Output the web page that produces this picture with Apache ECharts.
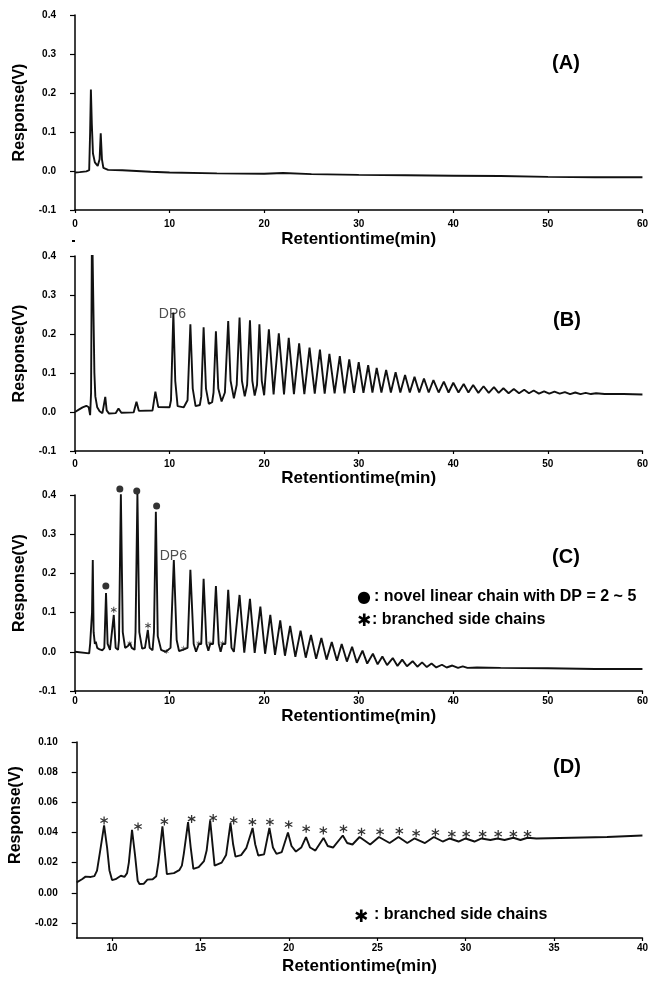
<!DOCTYPE html>
<html><head><meta charset="utf-8">
<script src="https://cdn.jsdelivr.net/npm/echarts@6/dist/echarts.min.js"></script>
<style>html,body{margin:0;padding:0;background:#fff}#c{width:651px;height:982px}</style>
</head><body><div id="c"></div>
<script>
// ---------- data ----------
const traceA = [[0,-0.004],[0.5,-0.003],[1.2,-0.001],[1.5,0.002],[1.6,0.1],[1.68,0.209],[1.78,0.12],[1.9,0.045],[2.1,0.022],[2.4,0.013],[2.6,0.03],[2.72,0.097],[2.85,0.03],[3.0,0.008],[3.5,0.003],[5,0.002],[6.5,0.0],[8,-0.002],[10,-0.004],[15,-0.006],[20,-0.007],[22,-0.005],[25,-0.008],[30,-0.01],[35,-0.011],[40,-0.012],[45,-0.013],[50,-0.015],[55,-0.016],[60,-0.016]];

const traceB = [[0,0.0],[0.4,0.006],[0.8,0.012],[1.2,0.016],[1.45,0.012],[1.6,-0.008],[1.7,0.05],[1.8,0.5],[1.95,0.5],[2.05,0.1],[2.15,0.04],[2.35,0.012],[2.6,0.002],[2.9,-0.003],[3.05,0.002],[3.2,0.039],[3.35,0.004],[3.6,-0.004],[4.3,-0.003],[4.6,0.009],[4.9,-0.002],[6.2,-0.001],[6.5,0.026],[6.75,0.003],[8.2,0.004],[8.5,0.052],[8.8,0.013],[10.0,0.012],[10.15,0.03],[10.4,0.255],[10.6,0.08],[10.85,0.015],[11.5,0.012],[11.9,0.03],[12.2,0.225],[12.45,0.06],[12.75,0.015],[13.2,0.018],[13.35,0.04],[13.6,0.217],[13.85,0.06],[14.15,0.021],[14.5,0.025],[14.65,0.05],[14.9,0.207],[15.15,0.06],[15.5,0.027],[15.85,0.05],[16.2,0.233],[16.45,0.08],[16.8,0.035],[17.1,0.07],[17.4,0.242],[17.65,0.08],[17.95,0.04],[18.2,0.07],[18.5,0.235],[18.75,0.08],[19.0,0.042],[19.25,0.07],[19.5,0.225],[19.75,0.08],[20.0,0.043],
[20.5,0.212],[21.0,0.045],[21.55,0.202],[22.1,0.045],[22.6,0.19],[23.15,0.046],[23.7,0.176],[24.25,0.046],[24.8,0.165],[25.35,0.047],[25.9,0.16],[26.4,0.047],[26.9,0.149],[27.45,0.048],[28.0,0.143],[28.5,0.048],[29.0,0.135],[29.5,0.049],[30.0,0.128],[30.5,0.049],[31.0,0.12],[31.45,0.05],[31.9,0.113],[32.4,0.05],[32.9,0.108],[33.4,0.05],[33.9,0.102],[34.4,0.05],[34.9,0.095],[35.4,0.05],[35.9,0.09],[36.4,0.05],[36.9,0.086],[37.4,0.05],[37.9,0.082],[38.45,0.05],[39.0,0.078],[39.5,0.05],[40.0,0.075],[40.55,0.05],[41.1,0.072],[41.6,0.05],[42.1,0.069],[42.65,0.049],[43.2,0.066],[43.75,0.049],[44.3,0.064],[44.8,0.049],[45.3,0.061],[45.85,0.048],[46.4,0.059],[46.95,0.048],[47.5,0.057],[48.0,0.048],[48.5,0.055],[49.05,0.047],[49.6,0.053],[50.15,0.047],[50.7,0.052],[51.25,0.047],[51.8,0.051],[52.35,0.046],[52.9,0.05],[53.45,0.046],[54.0,0.049],[54.55,0.046],[55.1,0.048],[56,0.046],[58,0.046],[60,0.045]];

const traceC = [[0,0.0],[1.5,-0.004],[1.6,0.02],[1.7,0.02],[1.8,0.1],[1.88,0.234],[1.97,0.05],[2.1,0.02],[2.2,0.026],[2.35,0.01],[2.6,0.006],[2.9,0.004],[3.1,0.01],[3.28,0.15],[3.45,0.02],[3.7,0.005],[3.9,0.01],[4.1,0.094],[4.3,0.01],[4.55,0.005],[4.65,0.03],[4.85,0.402],[5.05,0.05],[5.3,0.01],[5.6,0.015],[5.8,0.022],[6.0,0.01],[6.3,0.005],[6.4,0.05],[6.6,0.405],[6.8,0.05],[7.1,0.008],[7.4,0.01],[7.7,0.056],[7.9,0.01],[8.2,0.004],[8.35,0.05],[8.55,0.357],[8.75,0.04],[9.1,0.005],[9.6,0.0],[9.8,0.005],[10.1,0.01],[10.45,0.234],[10.75,0.03],[11.0,0.002],[11.4,0.005],[11.9,0.01],[12.2,0.209],[12.55,0.02],[12.8,0.0],[13.1,0.02],[13.35,0.02],[13.6,0.186],[13.9,0.02],[14.1,0.003],[14.3,0.02],[14.6,0.02],[14.9,0.168],[15.2,0.02],[15.4,0.0],[15.6,0.02],[15.9,0.02],[16.2,0.158],[16.55,0.01],[16.8,0.0],[17.4,0.145],[17.9,-0.002],[18.5,0.135],[19.0,-0.003],[19.6,0.115],[20.1,-0.005],[20.65,0.094],[21.15,-0.008],[21.7,0.08],[22.2,-0.01],[22.75,0.066],[23.3,-0.013],[23.85,0.054],[24.4,-0.015],[24.95,0.043],[25.5,-0.018],[26.05,0.035],[26.6,-0.02],[27.15,0.025],[27.7,-0.023],[28.2,0.02],[28.75,-0.025],[29.3,0.013],[29.8,-0.028],[30.4,0.003],[30.9,-0.03],[31.5,-0.005],[32.0,-0.032],[32.5,-0.012],[33.0,-0.034],[33.6,-0.016],[34.1,-0.036],[34.6,-0.02],[35.1,-0.037],[35.7,-0.024],[36.2,-0.038],[36.7,-0.027],[37.2,-0.039],[37.7,-0.03],[38.2,-0.04],[38.8,-0.033],[39.3,-0.04],[39.9,-0.035],[40.5,-0.041],[41.0,-0.037],[41.5,-0.041],[42.5,-0.04],[45,-0.041],[50,-0.042],[55,-0.044],[60,-0.044]];

const traceD = [[8.0,0.0069],[8.3,0.009],[8.5,0.0107],[8.8,0.0105],[9.0,0.011],[9.15,0.0147],[9.33,0.028],[9.55,0.0447],[9.72,0.03],[9.85,0.015],[10.0,0.0084],[10.2,0.009],[10.5,0.0113],[10.7,0.0105],[10.85,0.013],[10.95,0.02],[11.13,0.0418],[11.3,0.025],[11.45,0.008],[11.55,0.0058],[11.8,0.006],[12.0,0.0087],[12.3,0.009],[12.5,0.011],[12.62,0.02],[12.85,0.044],[13.0,0.025],[13.1,0.0124],[13.5,0.013],[13.8,0.015],[13.95,0.018],[14.06,0.026],[14.3,0.0469],[14.45,0.03],[14.6,0.0158],[14.9,0.017],[15.2,0.021],[15.35,0.028],[15.55,0.048],[15.7,0.03],[15.8,0.018],[16.2,0.02],[16.45,0.025],[16.7,0.0462],[16.85,0.032],[16.98,0.024],[17.3,0.025],[17.6,0.0298],[17.95,0.043],[18.1,0.032],[18.27,0.0247],[18.6,0.0255],[18.9,0.043],[19.1,0.03],[19.3,0.0258],[19.6,0.027],[19.95,0.040],[20.15,0.031],[20.4,0.0273],[20.7,0.03],[20.97,0.0369],[21.2,0.03],[21.5,0.028],[21.96,0.0364],[22.2,0.031],[22.5,0.030],[23.05,0.038],[23.3,0.033],[23.6,0.032],[24.0,0.037],[24.6,0.032],[25.1,0.037],[25.7,0.033],[26.2,0.037],[26.7,0.033],[27.1,0.036],[27.7,0.033],[28.2,0.037],[28.7,0.034],[29.1,0.036],[29.6,0.034],[30.0,0.036],[30.5,0.034],[30.9,0.036],[31.4,0.035],[31.8,0.036],[32.2,0.035],[32.7,0.0365],[33.1,0.035],[33.5,0.0365],[34,0.036],[36,0.0365],[38,0.037],[40,0.038]];

const dotsC = [[3.26,0.168],[4.74,0.415],[6.53,0.41],[8.63,0.372]];
const bigStarsC = [[4.1,0.107],[7.72,0.067]];
const smallStarsC = [[5.79,0.022],[9.65,0.001],[11.47,0.009],[13.09,0.022],[14.28,0.022],[15.6,0.022]];
const starsD = [[9.55,0.048],[11.47,0.044],[12.96,0.0473],[14.5,0.049],[15.72,0.0496],[16.88,0.048],[17.94,0.0469],[18.93,0.0469],[19.99,0.0453],[20.98,0.0424],[21.95,0.0413],[23.09,0.0424],[24.11,0.0405],[25.16,0.0405],[26.25,0.041],[27.2,0.0395],[28.29,0.040],[29.22,0.039],[30.03,0.039],[30.96,0.039],[31.84,0.039],[32.7,0.039],[33.5,0.039]];
const dp6B = [[10.3,0.252]];
const dp6C = [[10.4,0.245]];

const xTicksABC = [0,10,20,30,40,50,60];
const yTicksABC = [-0.1,0,0.1,0.2,0.3,0.4];
const xTicksD = [10,15,20,25,30,35,40];
const yTicksD = [-0.02,0,0.02,0.04,0.06,0.08,0.10];
const panelLabels = ['(A)','(B)','(C)','(D)'];
const xTitle = 'Retentiontime(min)';
const yTitle = 'Response(V)';

// ---------- chart ----------
const FF = '"Liberation Sans", Arial, Helvetica, sans-serif';
const STAR = 'path://M-1.5,-10L1.5,-10L1.5,10L-1.5,10Z M9.41,3.70L7.91,6.30L-9.41,-3.70L-7.91,-6.30Z M-7.91,6.30L-9.41,3.70L7.91,-6.30L9.41,-3.70Z';
const chart = echarts.init(document.getElementById('c'), null, {renderer:'canvas'});

const grids = [
  {left:75, top:15, width:570, height:195},
  {left:75, top:256, width:570, height:195},
  {left:75, top:495, width:570, height:196},
  {left:73, top:742, width:572, height:196}
];
const xNameGap = [21, 19, 17, 20];
const xLabelMargin = [9, 8, 5, 5];
const yNamePad = [[0,0,0,0],[0,0,0,0],[0,0,0,20],[0,0,0,50]];
const yLabelPad = [[4,0,0,0],[14,0,0,0],[0,0,0,0],[0,0,0,0]];

function xAxis(i) {
  const isD = i === 3;
  const ticks = isD ? xTicksD : xTicksABC;
  return {
    type:'value', gridIndex:i, min: isD ? 8 : 0, max: isD ? 40 : 60,
    interval: isD ? undefined : 10,
    name: xTitle, nameLocation:'middle', nameGap: xNameGap[i],
    nameTextStyle:{color:'#000', fontSize:17, fontWeight:'bold', fontFamily:FF},
    axisLine:{onZero:false, lineStyle:{color:'#000', width:1.5}},
    axisTick:{show:true, length:3, lineStyle:{color:'#000', width:1.2}, customValues: ticks},
    axisLabel:{color:'#000', fontSize:10, fontWeight:'bold', fontFamily:FF, margin: xLabelMargin[i], customValues: ticks, showMinLabel:true, showMaxLabel:true},
    splitLine:{show:false}
  };
}
function yAxis(i) {
  const isD = i === 3;
  const ticks = isD ? yTicksD : yTicksABC;
  return {
    type:'value', gridIndex:i, min: isD ? -0.03 : -0.1, max: isD ? 0.10 : 0.4,
    name: yTitle, nameLocation:'middle', nameGap: 44, nameRotate: 90,
    nameTextStyle:{color:'#000', fontSize:16, fontWeight:'bold', fontFamily:FF, padding: yNamePad[i]},
    axisLine:{onZero:false, lineStyle:{color:'#000', width:1.5}},
    axisTick:{show:true, length:5, lineStyle:{color:'#000', width:1.2}, customValues: ticks},
    axisLabel:{color:'#000', fontSize:10, fontWeight:'bold', fontFamily:FF, margin: 19, customValues: ticks, padding: yLabelPad[i],
      formatter: v => isD ? (Math.abs(v) < 1e-9 ? '0.00' : v.toFixed(2)) : (Math.abs(v) < 1e-9 ? '0.0' : v.toFixed(1))},
    splitLine:{show:false}
  };
}

function lineSeries(i, data) {
  return {type:'line', xAxisIndex:i, yAxisIndex:i, data, showSymbol:false, symbol:'none', clip:true,
    lineStyle:{color:'#111', width:1.9}, animation:false, silent:true};
}
function textScatter(i, data, txt) {
  return {type:'scatter', xAxisIndex:i, yAxisIndex:i, data, symbolSize:1, itemStyle:{color:'rgba(0,0,0,0)'},
    label:{show:true, position:'inside', formatter: txt, color:'#222', fontSize:14, fontFamily:FF}, animation:false, silent:true};
}

const option = {
  backgroundColor:'#fff',
  animation:false,
  grid: grids,
  xAxis: [0,1,2,3].map(xAxis),
  yAxis: [0,1,2,3].map(yAxis),
  series: [
    lineSeries(0, traceA), lineSeries(1, traceB), lineSeries(2, traceC), lineSeries(3, traceD),
    {type:'scatter', xAxisIndex:2, yAxisIndex:2, data: dotsC, symbol:'circle', symbolSize:7, clip:false, itemStyle:{color:'#000'}, animation:false},
    {type:'scatter', xAxisIndex:2, yAxisIndex:2, data: bigStarsC, symbol:STAR, symbolSize:[6,6], itemStyle:{color:'#111'}, animation:false},
    {type:'scatter', xAxisIndex:2, yAxisIndex:2, data: smallStarsC, symbol:STAR, symbolSize:[5,5], itemStyle:{color:'#555'}, animation:false},
    {type:'scatter', xAxisIndex:3, yAxisIndex:3, data: starsD, symbol:STAR, symbolSize:[8,8], itemStyle:{color:'#000'}, animation:false},
    textScatter(1, dp6B, 'DP6'), textScatter(2, dp6C, 'DP6')
  ],
  graphic: [
    {type:'text', x:566, y:63, style:{text:panelLabels[0], font:'bold 20px '+FF, fill:'#000', align:'center', verticalAlign:'middle'}},
    {type:'text', x:567, y:320, style:{text:panelLabels[1], font:'bold 20px '+FF, fill:'#000', align:'center', verticalAlign:'middle'}},
    {type:'text', x:566, y:557, style:{text:panelLabels[2], font:'bold 20px '+FF, fill:'#000', align:'center', verticalAlign:'middle'}},
    {type:'text', x:567, y:767, style:{text:panelLabels[3], font:'bold 20px '+FF, fill:'#000', align:'center', verticalAlign:'middle'}},
    {type:'text', x:364, y:598, style:{text:'●', font:'16px "DejaVu Sans"', fill:'#000', align:'center', verticalAlign:'middle'}},
    {type:'text', x:374, y:597, style:{text:': novel linear chain with DP = 2 ~ 5', font:'bold 16px '+FF, fill:'#000', align:'left', verticalAlign:'middle'}},
    {type:'text', x:364, y:622, style:{text:'✱', font:'bold 17px "DejaVu Sans"', fill:'#000', align:'center', verticalAlign:'middle'}},
    {type:'text', x:372, y:620, style:{text:': branched side chains', font:'bold 16px '+FF, fill:'#000', align:'left', verticalAlign:'middle'}},
    {type:'text', x:361, y:918, style:{text:'✱', font:'bold 17px "DejaVu Sans"', fill:'#000', align:'center', verticalAlign:'middle'}},
    {type:'text', x:374, y:915, style:{text:': branched side chains', font:'bold 16px '+FF, fill:'#000', align:'left', verticalAlign:'middle'}},
    {type:'rect', shape:{x:72, y:240, width:3, height:2}, style:{fill:'#000'}}
  ]
};
chart.setOption(option);
</script>
</body></html>
